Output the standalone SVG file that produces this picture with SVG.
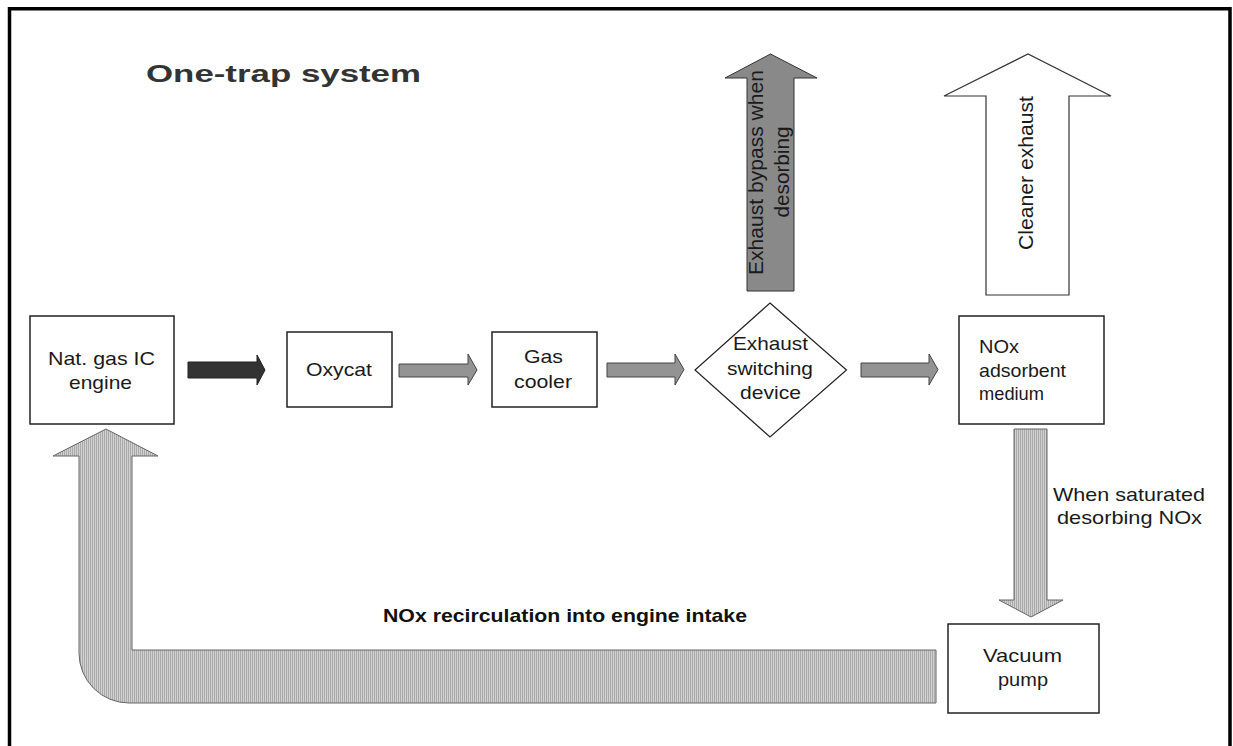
<svg xmlns="http://www.w3.org/2000/svg" width="1233" height="746" viewBox="0 0 1233 746">
<style>
.frame{fill:none;stroke:#000;stroke-width:3.5}
.box{fill:#fff;stroke:#222;stroke-width:1.5}
.t{font-family:"Liberation Sans",Arial,sans-serif;font-size:19px;fill:#1a1a1a}
.tr{font-family:"Liberation Sans",Arial,sans-serif;font-size:21px;fill:#1a1a1a;text-anchor:middle}
.title{font-family:"Liberation Sans",Arial,sans-serif;font-size:24.5px;font-weight:bold;fill:#333}
.lbl{font-family:"Liberation Sans",Arial,sans-serif;font-size:19px;font-weight:bold;fill:#111}
.dark{fill:#333;stroke:#222;stroke-width:1}
.mid{fill:#939393;stroke:#444;stroke-width:1}
.bypass{fill:#898989;stroke:#333;stroke-width:1}
.white{fill:#fff;stroke:#333;stroke-width:1.2}
.stip{fill:url(#stripes);stroke:#666;stroke-width:1}
</style>
<defs>
<pattern id="stripes" width="2" height="2" patternUnits="userSpaceOnUse">
<rect width="2" height="2" fill="#d0d0d0"/>
<rect x="0" width="1" height="2" fill="#ababab"/>
</pattern>
</defs>
<rect width="1233" height="746" fill="#fff"/>
<path class="frame" d="M9.5,746 V8.8 H1230 V746"/>
<text class="title" x="146" y="81.5" textLength="275" lengthAdjust="spacingAndGlyphs">One-trap system</text>

<g id="connectors">
<polygon class="dark" points="188,362 257,362 257,355 265,370 257,385 257,378 188,378"/>
<polygon class="mid" points="399,364 468,364 468,354 477,370 468,385 468,377 399,377"/>
<polygon class="mid" points="607,363 675,363 675,354 684,369.5 675,385 675,377 607,377"/>
<polygon class="mid" points="861,363 929,363 929,354 938,369.5 929,385 929,377 861,377"/>
<polygon class="bypass" points="747,291 747,78 725,78 770.5,54 817,78 794,78 794,291"/>
<text class="tr" transform="translate(763,172.5) rotate(-90)" textLength="205" lengthAdjust="spacingAndGlyphs">Exhaust bypass when</text>
<text class="tr" transform="translate(789,172) rotate(-90)" textLength="91" lengthAdjust="spacingAndGlyphs">desorbing</text>
<polygon class="white" points="986,295 986,96 944,96 1028,54 1111,96 1069,96 1069,295"/>
<text class="tr" transform="translate(1033,173) rotate(-90)" textLength="154" lengthAdjust="spacingAndGlyphs">Cleaner exhaust</text>
<polygon class="stip" points="1014,429 1047,429 1047,600 1063,600 1031,617 999,600 1014,600"/>
<text class="t" x="1053" y="501" textLength="152" lengthAdjust="spacingAndGlyphs">When saturated</text>
<text class="t" x="1057" y="524" textLength="145" lengthAdjust="spacingAndGlyphs">desorbing NOx</text>
<path class="stip" d="M936,650 L132,650 L132,456 L158,456 L106,429 L53,456 L79,456 L79,653 A50,50 0 0 0 129,703 L936,703 Z"/>
<text class="lbl" x="383" y="622" textLength="364" lengthAdjust="spacingAndGlyphs">NOx recirculation into engine intake</text>
</g>

<g id="engine">
<rect class="box" x="30" y="316" width="144" height="108"/>
<text class="t" x="48" y="365" textLength="107" lengthAdjust="spacingAndGlyphs">Nat. gas IC</text>
<text class="t" x="69" y="389" textLength="63" lengthAdjust="spacingAndGlyphs">engine</text>
</g>
<g id="oxycat">
<rect class="box" x="287" y="332" width="105" height="75"/>
<text class="t" x="306" y="376" textLength="66" lengthAdjust="spacingAndGlyphs">Oxycat</text>
</g>
<g id="gascooler">
<rect class="box" x="492" y="332" width="105" height="75"/>
<text class="t" x="524" y="363" textLength="39" lengthAdjust="spacingAndGlyphs">Gas</text>
<text class="t" x="514" y="388" textLength="58" lengthAdjust="spacingAndGlyphs">cooler</text>
</g>
<g id="switch">
<polygon class="box" style="stroke-width:1.2" points="770,303 846.5,370 770,437 695,370"/>
<text class="t" x="733" y="350" textLength="75" lengthAdjust="spacingAndGlyphs">Exhaust</text>
<text class="t" x="727" y="374.5" textLength="86" lengthAdjust="spacingAndGlyphs">switching</text>
<text class="t" x="740" y="399" textLength="61" lengthAdjust="spacingAndGlyphs">device</text>
</g>
<g id="adsorbent">
<rect class="box" x="959" y="316" width="145" height="108"/>
<text class="t" x="979" y="353" textLength="40" lengthAdjust="spacingAndGlyphs">NOx</text>
<text class="t" x="979" y="377" textLength="87" lengthAdjust="spacingAndGlyphs">adsorbent</text>
<text class="t" x="979" y="400" textLength="65" lengthAdjust="spacingAndGlyphs">medium</text>
</g>
<g id="vacuum">
<rect class="box" x="948" y="624" width="151" height="89"/>
<text class="t" x="983" y="662" textLength="79" lengthAdjust="spacingAndGlyphs">Vacuum</text>
<text class="t" x="998" y="686" textLength="50" lengthAdjust="spacingAndGlyphs">pump</text>
</g>
</svg>
